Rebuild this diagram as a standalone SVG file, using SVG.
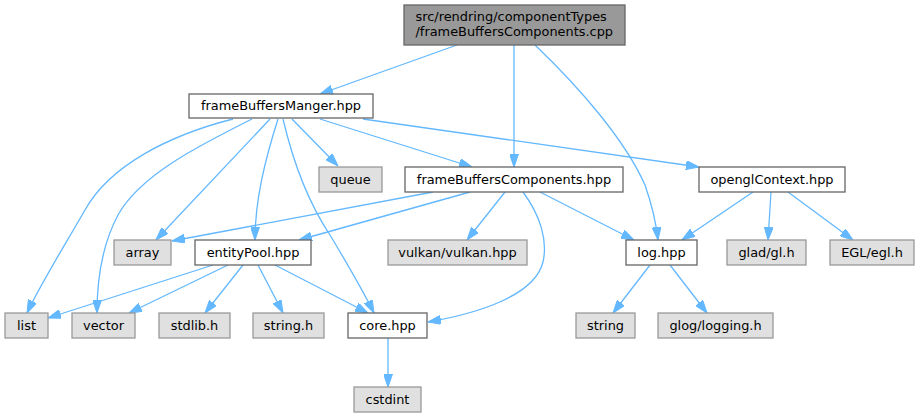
<svg xmlns="http://www.w3.org/2000/svg" width="919" height="417" viewBox="0 0 919 417">
<style>
.n rect{stroke-width:1.3}
.w{fill:#ffffff;stroke:#666666}
.g{fill:#e0e0e0;stroke:#999999}
.t{fill:#999999;stroke:#666666}
text{font-family:"DejaVu Sans",sans-serif;font-size:12.9px;fill:#000000}
.c{text-anchor:middle}
#edges path{fill:none;stroke:#63b8ff;stroke-width:1.3;marker-end:url(#ah)}
</style>
<defs>
<marker id="ah" viewBox="0 0 13 9" refX="13" refY="4.5" markerWidth="13" markerHeight="9" markerUnits="userSpaceOnUse" orient="auto">
<path d="M0,0 L13,4.5 L0,9 z" fill="#63b8ff" stroke="#63b8ff" stroke-width="1"/>
</marker>
</defs>
<rect width="919" height="417" fill="#ffffff"/>
<g id="edges">
<path d="M457,45 L320,94"/>
<path d="M514,45 L514,167"/>
<path d="M535,45 C580,88 625,140 645,185 C652,205 656,222 658,240"/>
<path d="M233,119 C170,135 110,165 85,210 C62,250 40,285 27,313"/>
<path d="M252,119 C200,145 140,175 118,215 C102,245 97,280 97,313"/>
<path d="M270,119 L156,240"/>
<path d="M278,119 C265,160 255,200 255,240"/>
<path d="M283,119 C295,170 310,205 330,235 C345,260 360,285 374,313"/>
<path d="M292,119 L338,166"/>
<path d="M320,119 L472,167"/>
<path d="M363,119 L699,167"/>
<path d="M433,192 L172,241"/>
<path d="M470,192 L299,240"/>
<path d="M505,192 L467,240"/>
<path d="M523,192 C540,215 548,240 543,262 C535,295 480,313 428,322"/>
<path d="M540,192 L634,240"/>
<path d="M753,192 L682,240"/>
<path d="M771,192 L768,240"/>
<path d="M788,192 L853,240"/>
<path d="M650,265 L613,313"/>
<path d="M670,265 L707,313"/>
<path d="M213,265 L48,318"/>
<path d="M228,265 L129,313"/>
<path d="M243,265 L205,313"/>
<path d="M258,265 L283,313"/>
<path d="M275,265 L368,313"/>
<path d="M388,338 L388,387"/>
</g>
<g id="node_top" class="n"><rect class="t" x="404" y="5" width="221" height="40"/><text x="415.5" y="20.5">src/rendring/componentTypes</text><text x="415.5" y="36">/frameBuffersComponents.cpp</text></g>
<g id="node_fbm" class="n"><rect class="w" x="189" y="94" width="184" height="24"/><text class="c" x="281" y="110">frameBuffersManger.hpp</text></g>
<g id="node_queue" class="n"><rect class="g" x="319" y="167" width="63" height="25"/><text class="c" x="350.5" y="183.5">queue</text></g>
<g id="node_fbc" class="n"><rect class="w" x="405" y="167" width="218" height="25"/><text class="c" x="514" y="183.5">frameBuffersComponents.hpp</text></g>
<g id="node_ogl" class="n"><rect class="w" x="699" y="167" width="146" height="25"/><text class="c" x="772" y="183.5">openglContext.hpp</text></g>
<g id="node_array" class="n"><rect class="g" x="114" y="240" width="57" height="25"/><text class="c" x="142.5" y="256.5">array</text></g>
<g id="node_entity" class="n"><rect class="w" x="195" y="240" width="116" height="25"/><text class="c" x="253" y="256.5">entityPool.hpp</text></g>
<g id="node_vulkan" class="n"><rect class="g" x="388" y="240" width="139" height="25"/><text class="c" x="457.5" y="256.5">vulkan/vulkan.hpp</text></g>
<g id="node_log" class="n"><rect class="w" x="626" y="240" width="71" height="25"/><text class="c" x="661.5" y="256.5">log.hpp</text></g>
<g id="node_glad" class="n"><rect class="g" x="727" y="240" width="79" height="25"/><text class="c" x="766.5" y="256.5">glad/gl.h</text></g>
<g id="node_egl" class="n"><rect class="g" x="830" y="240" width="84" height="25"/><text class="c" x="872" y="256.5">EGL/egl.h</text></g>
<g id="node_list" class="n"><rect class="g" x="5" y="313" width="43" height="25"/><text class="c" x="26.5" y="329.5">list</text></g>
<g id="node_vector" class="n"><rect class="g" x="72" y="313" width="63" height="25"/><text class="c" x="103.5" y="329.5">vector</text></g>
<g id="node_stdlib" class="n"><rect class="g" x="159" y="313" width="71" height="25"/><text class="c" x="194.5" y="329.5">stdlib.h</text></g>
<g id="node_stringh" class="n"><rect class="g" x="253" y="313" width="71" height="25"/><text class="c" x="288.5" y="329.5">string.h</text></g>
<g id="node_core" class="n"><rect class="w" x="348" y="313" width="79" height="25"/><text class="c" x="387.5" y="329.5">core.hpp</text></g>
<g id="node_string" class="n"><rect class="g" x="576" y="313" width="59" height="25"/><text class="c" x="605.5" y="329.5">string</text></g>
<g id="node_glog" class="n"><rect class="g" x="658" y="313" width="115" height="25"/><text class="c" x="715.5" y="329.5">glog/logging.h</text></g>
<g id="node_cstdint" class="n"><rect class="g" x="354" y="387" width="67" height="25"/><text class="c" x="387.5" y="403.5">cstdint</text></g>
</svg>
